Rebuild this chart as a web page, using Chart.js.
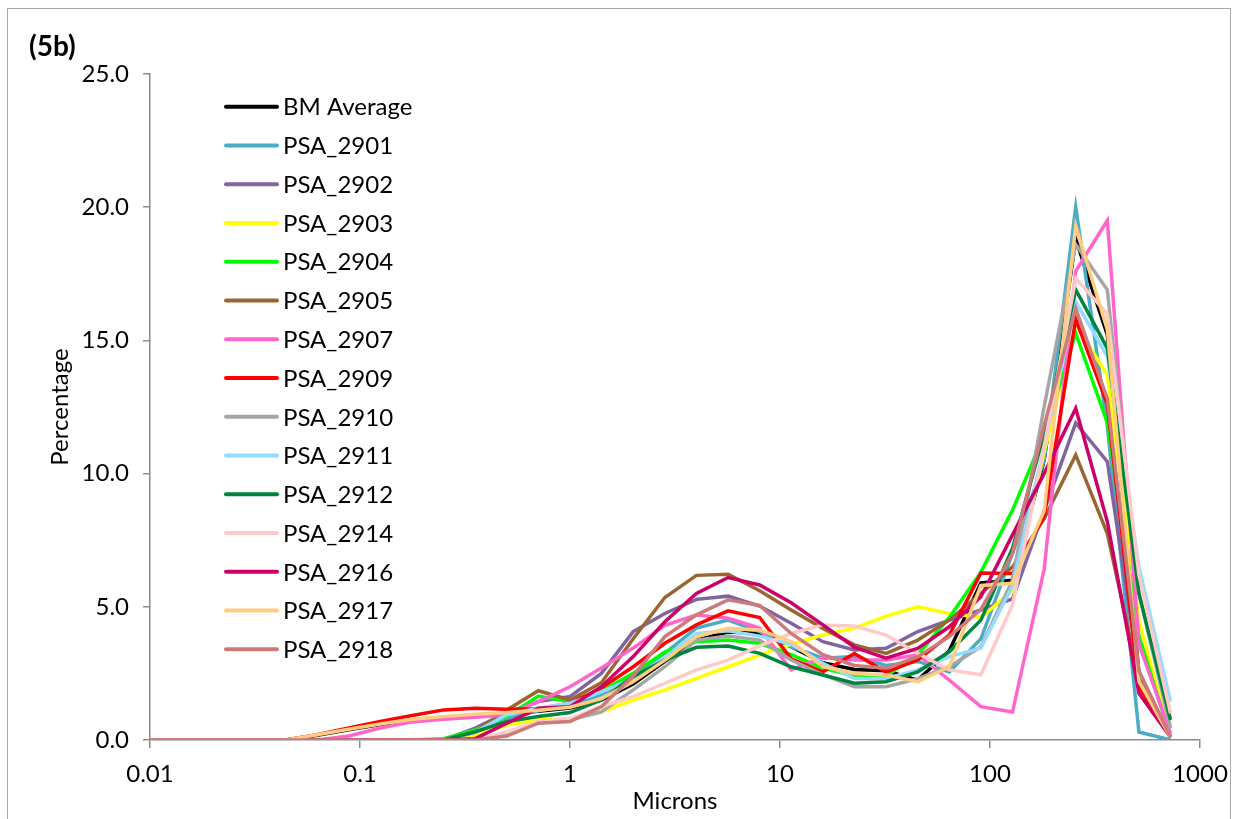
<!DOCTYPE html>
<html>
<head>
<meta charset="utf-8">
<script src="https://cdn.jsdelivr.net/npm/chart.js@4.4.1/dist/chart.umd.min.js"></script>
<style>
  html, body { margin: 0; padding: 0; background: #ffffff; }
  #wrap { position: relative; width: 1235px; height: 819px; overflow: hidden; background: #fff; }
  #c { position: absolute; left: 0; top: 0; }
  #frame { position: absolute; left: 7px; top: 8px; width: 1222px; height: 900px; border: 1px solid #a9a9a9; pointer-events: none; }
  #tag { position: absolute; left: 29px; top: 28px; font: bold 28px Lato, "Liberation Sans", sans-serif; color: #000; }
</style>
</head>
<body>
<div id="wrap">
  <canvas id="c" width="1235" height="819"></canvas>
  <div id="frame"></div>
  <div id="tag">(5b)</div>
</div>
<script>
// ---- data ----
const microns = [0.01, 0.0156, 0.0221, 0.0313, 0.0442, 0.0625, 0.0884, 0.125, 0.177, 0.25, 0.354, 0.5, 0.707, 1.0, 1.41, 2.0, 2.83, 4.0, 5.66, 8.0, 11.3, 16.0, 22.6, 32.0, 45.3, 64.0, 90.5, 128, 181, 256, 362, 512, 724];

const seriesNames = ["BM Average", "PSA_2901", "PSA_2902", "PSA_2903", "PSA_2904", "PSA_2905", "PSA_2907", "PSA_2909", "PSA_2910", "PSA_2911", "PSA_2912", "PSA_2914", "PSA_2916", "PSA_2917", "PSA_2918"];
const seriesColors = ["#000000", "#4BACC6", "#8064A2", "#FFFF00", "#00FF00", "#996633", "#FF66CC", "#FF0000", "#A6A6A6", "#92DCFF", "#00853E", "#FFC9C9", "#CC0066", "#FFCC80", "#CC7A7A"];

const bmAverage = [0,0,0,0,0, 0.18,0.38,0.58,0.75,0.85,0.93,1.0,1.08,1.2,1.5, 2.1,2.95,3.75,4.05,4.0, 3.5,2.9,2.65,2.6,2.25, 3.35,5.9,6.0,10.5,18.8, 15.2,2.5,0.1];
const psa2901 = [0,0,0,0,0, 0,0,0,0,0,0.3,0.8,1.1,1.3,1.7, 2.4,3.26,4.2,4.5,4.07, 3.5,3.07,3.13,2.8,2.95, 2.55,3.8,7.0,10.5,20.0, 11.8,0.3,0.0];
const psa2902 = [0,0,0,0,0, 0,0,0,0,0,0.45,1.03,1.44,1.63,2.5, 4.07,4.75,5.28,5.4,5.03, 4.38,3.69,3.38,3.44,4.07, 4.5,4.88,5.3,8.6,11.9, 10.45,2.5,0.1];
const psa2903 = [0,0,0,0,0, 0,0,0,0,0,0.15,0.56,0.75,0.81,1.06, 1.5,1.88,2.31,2.75,3.19, 3.6,3.94,4.2,4.65,5.0, 4.75,4.6,5.6,10.8,15.6, 13.7,4.5,0.1];
const psa2904 = [0,0,0,0,0, 0,0,0,0,0.05,0.38,0.88,1.65,1.44,1.83, 2.5,3.31,3.69,3.75,3.63, 3.2,2.7,2.4,2.4,3.2, 4.6,6.3,8.63,11.45,15.27, 11.9,3.9,0.1];
const psa2905 = [0,0,0,0,0, 0,0,0,0,0,0.3,1.13,1.85,1.5,2.15, 3.8,5.35,6.18,6.22,5.6, 4.88,4.19,3.57,3.25,3.75, 4.5,5.5,6.5,8.3,10.7, 7.75,2.3,0.1];
const psa2907 = [0,0,0,0,0, 0,0.15,0.45,0.68,0.78,0.85,0.95,1.44,2.0,2.7, 3.45,4.3,4.69,4.57,4.2, 2.63,3.1,3.0,3.0,3.2, 2.25,1.25,1.05,6.4,17.6, 19.5,3.6,0.25];
const psa2909 = [0,0,0,0,0, 0.2,0.45,0.7,0.92,1.13,1.19,1.15,1.17,1.38,1.95, 2.75,3.63,4.32,4.85,4.6, 3.05,2.56,3.25,2.55,3.0, 3.94,6.27,6.25,8.4,15.8, 12.6,2.0,0.1];
const psa2910 = [0,0,0,0,0, 0,0,0,0,0,0,0.25,0.69,0.75,1.06, 1.88,2.75,3.75,3.9,3.75, 3.0,2.45,2.0,2.0,2.3, 2.75,3.5,6.0,12.5,18.6, 16.9,5.5,0.45];
const psa2911 = [0,0,0,0,0, 0,0,0,0,0,0.3,0.95,1.19,1.38,1.81, 2.3,3.1,4.0,4.1,3.9, 3.6,2.88,2.31,2.31,2.63, 3.13,3.45,5.8,11.0,16.45, 14.4,6.5,1.44];
const psa2912 = [0,0,0,0,0, 0,0,0,0,0,0.31,0.69,0.88,1.03,1.5, 2.38,3.0,3.48,3.53,3.25, 2.75,2.44,2.13,2.19,2.56, 3.31,4.5,7.2,11.5,16.9, 14.7,5.5,0.75];
const psa2914 = [0,0,0,0,0, 0,0,0,0,0,0,0.3,0.7,0.8,1.25, 1.63,2.13,2.63,3.0,3.53, 4.0,4.32,4.28,3.94,3.25, 2.63,2.45,5.07,11.0,17.33, 16.0,6.2,1.0];
const psa2916 = [0,0,0,0,0, 0,0,0,0,0,0.05,0.63,1.19,1.25,2.0, 3.13,4.44,5.5,6.1,5.82, 5.15,4.32,3.48,3.07,3.44, 4.25,5.38,7.7,10.0,12.45, 8.2,1.75,0.1];
const psa2917 = [0,0,0,0,0, 0.2,0.4,0.6,0.78,0.88,0.97,1.03,1.12,1.23,1.55, 2.19,3.0,3.88,4.19,4.13, 3.7,2.75,2.5,2.44,2.19, 2.75,5.8,5.88,8.6,19.3, 15.4,2.2,0.1];
const psa2918 = [0,0,0,0,0, 0,0,0,0,0,0,0.15,0.63,0.69,1.25, 2.4,3.88,4.7,5.26,5.05, 4.0,3.2,2.8,2.69,3.13, 3.88,4.9,7.0,11.8,16.2, 12.8,2.6,0.1];

const seriesValues = [bmAverage, psa2901, psa2902, psa2903, psa2904, psa2905, psa2907, psa2909, psa2910, psa2911, psa2912, psa2914, psa2916, psa2917, psa2918];

const xTickValues = [0.01, 0.1, 1, 10, 100, 1000];
const xTickLabels = ["0.01", "0.1", "1", "10", "100", "1000"];
const yTickValues = [0, 5, 10, 15, 20, 25];

// ---- chart ----
const FONT = "Lato, 'Liberation Sans', sans-serif";
const AXIS = "#8c8c8c";
const N = seriesNames.length;

const datasets = seriesNames.map((name, i) => ({
  label: name,
  data: microns.map((x, j) => ({ x: x, y: seriesValues[i][j] })),
  borderColor: seriesColors[i],
  backgroundColor: seriesColors[i],
  borderWidth: 3.5,
  pointRadius: 0,
  tension: 0,
  fill: false,
  order: N - i
}));

const insideLegend = {
  id: 'insideLegend',
  afterDraw(chart) {
    const ctx = chart.ctx;
    ctx.save();
    ctx.font = "24px " + FONT;
    ctx.textBaseline = 'middle';
    ctx.textAlign = 'left';
    chart.data.datasets.forEach((ds, i) => {
      const y = 106.7 + i * 38.76;
      ctx.strokeStyle = ds.borderColor;
      ctx.lineWidth = 4;
      ctx.lineCap = 'round';
      ctx.beginPath();
      ctx.moveTo(226, y);
      ctx.lineTo(277, y);
      ctx.stroke();
      ctx.fillStyle = '#000';
      ctx.fillText(ds.label, 283, y + 1);
    });
    ctx.restore();
  }
};

new Chart(document.getElementById('c').getContext('2d'), {
  type: 'line',
  data: { datasets },
  plugins: [insideLegend],
  options: {
    responsive: false,
    animation: false,
    devicePixelRatio: 1,
    layout: { padding: { top: 74, right: 35, left: 0, bottom: 0 } },
    plugins: { legend: { display: false }, tooltip: { enabled: false } },
    scales: {
      x: {
        type: 'logarithmic',
        position: 'bottom',
        min: 0.01,
        max: 1000,
        afterBuildTicks: s => { s.ticks = xTickValues.map(v => ({ value: v })); },
        afterFit: s => { s.height = 79; s.paddingLeft = 0; s.paddingRight = 0; },
        ticks: {
          autoSkip: false,
          maxRotation: 0,
          color: '#000',
          padding: 12,
          font: { family: FONT, size: 24 },
          callback: (v) => { const k = xTickValues.indexOf(v); return k >= 0 ? xTickLabels[k] : ''; }
        },
        grid: { display: true, drawOnChartArea: false, drawTicks: true, tickLength: 8, color: AXIS, lineWidth: 1.5 },
        border: { display: true, color: AXIS, width: 1.5 },
        title: { display: true, text: 'Microns', color: '#000', font: { family: FONT, size: 24 }, padding: { top: 0, bottom: 3 } }
      },
      y: {
        type: 'linear',
        min: 0,
        max: 25,
        afterBuildTicks: s => { s.ticks = yTickValues.map(v => ({ value: v })); },
        afterFit: s => { s.width = 150; s.paddingTop = 0; s.paddingBottom = 0; },
        ticks: {
          color: '#000',
          padding: 14,
          font: { family: FONT, size: 24 },
          callback: v => Number(v).toFixed(1)
        },
        grid: { display: true, drawOnChartArea: false, drawTicks: true, tickLength: 7, color: AXIS, lineWidth: 1.5 },
        border: { display: true, color: AXIS, width: 1.5 },
        title: { display: true, text: 'Percentage', color: '#000', font: { family: FONT, size: 24 }, padding: { top: 46, bottom: 0 } }
      }
    }
  }
});
</script>
</body>
</html>
